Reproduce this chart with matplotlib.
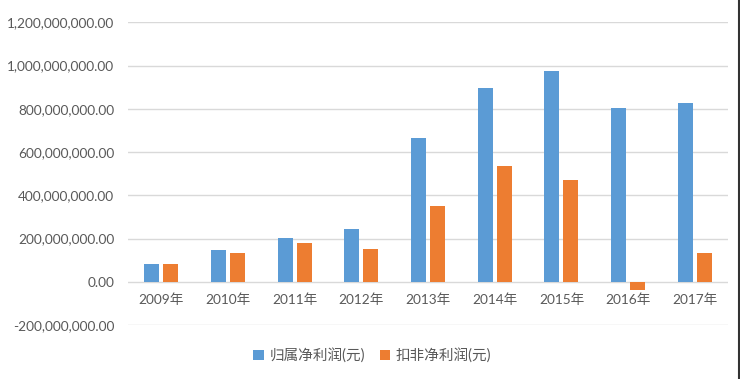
import numpy as np
import matplotlib.pyplot as plt
from matplotlib.lines import Line2D
from matplotlib.ticker import FuncFormatter

plt.rcParams['font.family'] = ['Lato', 'Noto Sans CJK SC', 'DejaVu Sans']

years = ['2009年', '2010年', '2011年', '2012年', '2013年', '2014年', '2015年', '2016年', '2017年']
net_profit = [84e6, 148e6, 203e6, 245e6, 665e6, 896e6, 975e6, 804e6, 827e6]
net_profit_ex = [84e6, 135e6, 181e6, 153e6, 352e6, 537e6, 471e6, -40e6, 131e6]
series_names = ['归属净利润(元)', '扣非净利润(元)']

grey = '#595959'
fig = plt.figure(figsize=(7.4, 3.79), dpi=100)
ax = fig.add_axes([0.173, 0.1425, 0.811, 0.7985])

x = np.arange(len(years))
w = 0.225
ax.bar(x - 0.1425, net_profit, w, color='#5b9bd5', label=series_names[0], zorder=3)
ax.bar(x + 0.1425, net_profit_ex, w, color='#ed7d31', label=series_names[1], zorder=3)

ax.set_xlim(-0.5, len(years) - 0.5)
ax.set_ylim(-2e8, 1.2e9)
ax.set_yticks(np.arange(-2e8, 1.21e9, 2e8))
ax.yaxis.set_major_formatter(FuncFormatter(lambda v, p: f'{v:,.2f}'))
ax.tick_params(axis='y', length=0, labelsize=9.8, colors=grey, pad=10)
ax.set_xticks([])
ax.grid(axis='y', color='#d9d9d9', linewidth=1, zorder=0)
for s in ax.spines.values():
    s.set_visible(False)

for i, lab in enumerate(years):
    ax.annotate(lab, (i, 0), xytext=(0, -13), textcoords='offset points',
                ha='center', va='center', fontsize=9.8, color=grey)

leg = fig.legend(*ax.get_legend_handles_labels(), loc='center', bbox_to_anchor=(0.503, 0.062),
                 ncol=2, frameon=False, fontsize=10.5, handlelength=0.7, handleheight=0.7,
                 handletextpad=0.4, columnspacing=1.0)
for t in leg.get_texts():
    t.set_color(grey)

fig.add_artist(Line2D([0.9985, 0.9985], [0, 1], color='#333333', linewidth=1.5))

fig.savefig('out.png', dpi=100)
